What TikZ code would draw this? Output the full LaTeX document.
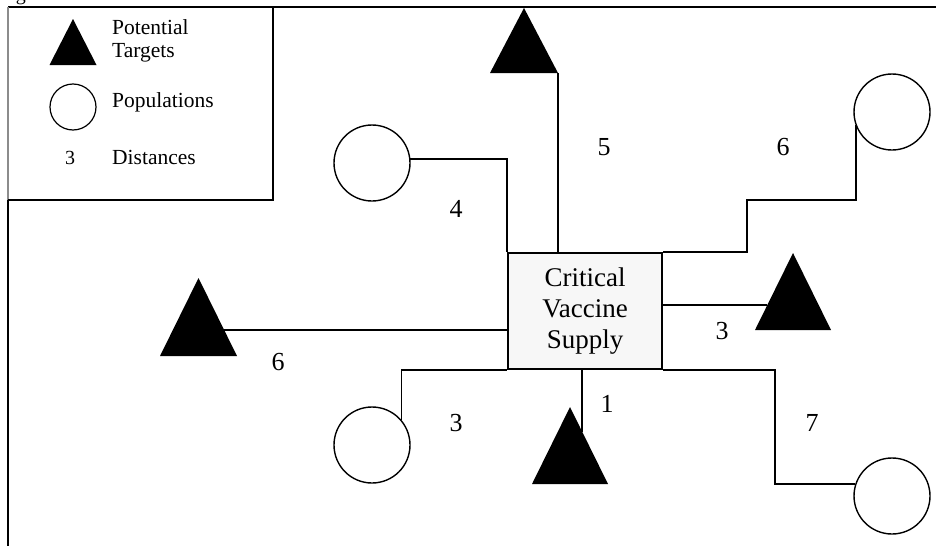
\documentclass[tikz,border=0pt]{standalone}
\usepackage{fontspec}
\setmainfont{Liberation Serif}
\usetikzlibrary{calc}

\tikzset{
  wire/.style={line width=1.8pt, black},
  frameline/.style={line width=2.4pt, black},
  population/.style={circle, draw=black, line width=1.4pt, fill=white,
    minimum size=76pt, inner sep=0pt},
  target/.style={minimum width=#1, minimum height=76pt, inner sep=0pt,
    path picture={\fill[black] (path picture bounding box.south west)
      -- (path picture bounding box.north)
      -- (path picture bounding box.south east) -- cycle;}},
  target/.default=76pt,
  supplybox/.style={draw=black, line width=2pt, fill=black!3,
    minimum width=154pt, minimum height=116pt, align=center,
    font=\fontsize{27}{31}\selectfont},
  dist/.style={font=\fontsize{26}{30}\selectfont, inner sep=1pt},
  legendtext/.style={font=\fontsize{21.5}{26}\selectfont, anchor=west,
    inner sep=0pt}
}

\begin{document}
\begin{tikzpicture}[x=1pt, y=-1pt]
\useasboundingbox (0,0) rectangle (936,546);

% clipped caption fragment at the top edge
\begin{scope}
  \clip (0,0) rectangle (936,546);
  \node[font=\fontsize{20}{24}\selectfont, anchor=base, inner sep=0pt] (cap) at (21,0) {g};
\end{scope}

% outer frame and legend
\draw[frameline] (8,7) -- (936,7);
\draw[frameline] (8,200) -- (8,546);
\draw[line width=1.4pt, black!45] (8,7) -- (8,200);
\draw[frameline] (8,200) -- (273,200) -- (273,7);

\node[target=47pt, minimum height=46pt] (legT) at (73,42) {};
\node[legendtext] (legTtxt1) at (112,27) {Potential};
\node[legendtext] (legTtxt2) at (112,53) {Targets};
\node[population, minimum size=46pt, line width=1.2pt] (legC) at (73,107) {};
\node[legendtext] (legCtxt) at (112,102) {Populations};
\node[font=\fontsize{20}{24}\selectfont, inner sep=0pt] (legD) at (70,158) {3};
\node[legendtext] (legDtxt) at (112,157) {Distances};

% central supply
\node[supplybox] (box) at (585,311) {Critical\\Vaccine\\Supply};

% targets
\node[target=68pt, minimum height=65pt] (t1) at (524,40.5) {};
\node[target=77pt, minimum height=78pt] (t2) at (198.5,317) {};
\node[target=76pt, minimum height=77pt] (t3) at (570,445.5) {};
\node[target=76pt, minimum height=77pt] (t4) at (793,291.5) {};

% populations
\node[population] (c1) at (372,163) {};
\node[population] (c2) at (372,445) {};
\node[population] (c3) at (892,112) {};
\node[population] (c4) at (892,496) {};

% contact points on the triangle edges
\coordinate (t2e) at ($(t2.north)!0.67!(t2.south east)$);
\coordinate (t3e) at ($(t3.north)!0.32!(t3.south east)$);
\coordinate (t4e) at ($(t4.north)!0.675!(t4.south west)$);

% bends of the stepped routes
\coordinate (b3a) at (747,200);
\coordinate (b4a) at (775,484);

% connectors
\draw[wire] (t1.south east) -- (t1.south east |- box.north);
\draw[wire, line width=1.4pt] (c1.6) -| (box.north west);
\draw[wire] (t2e) -- (t2e -| box.west);
\draw[wire, line width=1.4pt] (c2.40) |- (box.south west);
\draw[wire] (t3e |- box.south) -- (t3e);
\draw[wire] (box.east |- t4e) -- (t4e);
\draw[wire] (box.north east) -| (b3a) -| (c3.200);
\draw[wire] (box.south east) -| (b4a) -- (c4.162);

% distance labels
\node[dist] (d5) at (604,147) {5};
\node[dist] (d4) at (456,209) {4};
\node[dist] (d6a) at (278,362) {6};
\node[dist] (d3a) at (456,423) {3};
\node[dist] (d1) at (607,404) {1};
\node[dist] (d3b) at (722,331) {3};
\node[dist] (d6b) at (783,147) {6};
\node[dist] (d7) at (812,423) {7};
\end{tikzpicture}
\end{document}
